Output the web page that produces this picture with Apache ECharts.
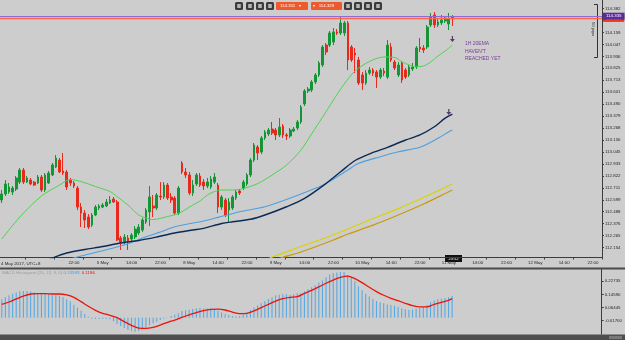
<!DOCTYPE html>
<html>
<head>
<meta charset="utf-8">
<style>
    html, body { margin: 0; padding: 0; background: #cdcdcd; }
    #chart { width: 625px; height: 340px; }
</style>
<script src="https://cdn.jsdelivr.net/npm/echarts@6/dist/echarts.min.js"></script>
</head>
<body>
<div id="chart"></div>
<script>
// USDJPY 1H, 4 May - 11 May 2017 (UTC+8)
const opens = [
    112.597, 112.653, 112.671, 112.671, 112.699, 112.764, 112.876, 112.764, 112.783, 112.764,
    112.755, 112.811, 112.690, 112.755, 112.830, 112.904, 112.969, 112.867, 112.858, 112.783,
    112.755, 112.708, 112.531, 112.475, 112.438, 112.363, 112.457, 112.522, 112.531, 112.541,
    112.569, 112.606, 112.578, 112.243, 112.205, 112.243, 112.233, 112.252, 112.289, 112.317,
    112.392, 112.485, 112.541, 112.522, 112.634, 112.625, 112.736, 112.625, 112.615, 112.475,
    112.942, 112.858, 112.830, 112.662, 112.746, 112.820, 112.764, 112.727, 112.718, 112.764,
    112.736, 112.531, 112.597, 112.503, 112.522, 112.615, 112.681, 112.708, 112.746, 112.830,
    112.969, 113.091, 113.044, 113.175, 113.212, 113.258, 113.249, 113.203, 113.286, 113.203,
    113.193, 113.240, 113.268, 113.324, 113.492, 113.613, 113.622, 113.697, 113.762, 113.855,
    114.041, 114.041, 114.069, 114.163, 114.153, 114.153, 114.247, 114.023, 113.967, 113.902,
    113.762, 113.687, 113.780, 113.808, 113.790, 113.743, 113.799, 113.743, 114.023, 113.883,
    113.762, 113.874, 113.808, 113.762, 113.818, 113.836, 114.023, 114.014, 114.023, 114.228,
    114.321, 114.228, 114.247, 114.265, 114.237, 114.307
]
const closes = [
    112.653, 112.746, 112.718, 112.708, 112.802, 112.876, 112.764, 112.802, 112.746, 112.736,
    112.811, 112.690, 112.830, 112.848, 112.923, 112.988, 112.858, 112.848, 112.718, 112.755,
    112.727, 112.531, 112.475, 112.410, 112.345, 112.457, 112.531, 112.541, 112.550, 112.578,
    112.597, 112.578, 112.224, 112.205, 112.252, 112.214, 112.270, 112.326, 112.345, 112.410,
    112.503, 112.625, 112.522, 112.643, 112.625, 112.736, 112.615, 112.597, 112.475, 112.708,
    112.858, 112.830, 112.662, 112.736, 112.830, 112.736, 112.727, 112.764, 112.792, 112.811,
    112.531, 112.625, 112.457, 112.578, 112.625, 112.671, 112.662, 112.764, 112.830, 112.969,
    113.109, 113.035, 113.175, 113.230, 113.249, 113.221, 113.203, 113.277, 113.203, 113.193,
    113.249, 113.258, 113.324, 113.464, 113.613, 113.631, 113.697, 113.762, 113.874, 114.023,
    113.976, 114.153, 114.163, 114.153, 114.247, 114.247, 113.902, 113.902, 113.948, 113.687,
    113.687, 113.780, 113.808, 113.780, 113.743, 113.808, 113.780, 114.041, 113.902, 113.827,
    113.855, 113.715, 113.743, 113.836, 113.836, 114.014, 114.004, 113.995, 114.209, 114.303,
    114.228, 114.256, 114.275, 114.293, 114.284, 114.293
]
const lows = [
    112.569, 112.634, 112.653, 112.643, 112.681, 112.746, 112.746, 112.755, 112.736, 112.727,
    112.746, 112.671, 112.671, 112.746, 112.820, 112.895, 112.848, 112.830, 112.690, 112.727,
    112.708, 112.503, 112.345, 112.336, 112.326, 112.345, 112.447, 112.503, 112.522, 112.531,
    112.559, 112.569, 112.214, 112.131, 112.186, 112.131, 112.196, 112.233, 112.270, 112.298,
    112.373, 112.354, 112.438, 112.503, 112.597, 112.606, 112.597, 112.569, 112.457, 112.457,
    112.839, 112.802, 112.643, 112.634, 112.727, 112.718, 112.690, 112.708, 112.699, 112.746,
    112.475, 112.503, 112.438, 112.392, 112.503, 112.597, 112.643, 112.690, 112.727, 112.811,
    112.951, 112.969, 113.025, 113.156, 113.193, 113.203, 113.156, 113.184, 113.175, 113.156,
    113.175, 113.230, 113.249, 113.305, 113.473, 113.594, 113.603, 113.678, 113.743, 113.836,
    113.948, 114.023, 114.041, 114.135, 114.135, 114.125, 113.808, 113.883, 113.780, 113.669,
    113.622, 113.669, 113.762, 113.752, 113.641, 113.725, 113.752, 113.725, 113.883, 113.808,
    113.743, 113.687, 113.725, 113.743, 113.799, 113.818, 113.976, 113.967, 114.004, 114.209,
    114.200, 114.209, 114.228, 114.247, 114.181, 114.219
]
const highs = [
    112.690, 112.783, 112.755, 112.727, 112.820, 112.895, 112.895, 112.820, 112.802, 112.774,
    112.830, 112.830, 112.848, 112.867, 112.942, 113.016, 112.988, 113.035, 112.876, 112.802,
    112.774, 112.727, 112.569, 112.503, 112.466, 112.475, 112.550, 112.559, 112.569, 112.606,
    112.634, 112.625, 112.597, 112.261, 112.280, 112.270, 112.289, 112.354, 112.373, 112.429,
    112.522, 112.727, 112.643, 112.662, 112.764, 112.764, 112.755, 112.662, 112.634, 112.727,
    112.960, 112.895, 112.858, 112.783, 112.848, 112.848, 112.792, 112.802, 112.820, 112.848,
    112.755, 112.643, 112.615, 112.615, 112.643, 112.690, 112.699, 112.783, 112.848, 112.988,
    113.128, 113.109, 113.193, 113.249, 113.268, 113.324, 113.268, 113.361, 113.305, 113.221,
    113.268, 113.277, 113.342, 113.482, 113.631, 113.650, 113.715, 113.780, 113.892, 114.041,
    114.060, 114.172, 114.200, 114.191, 114.303, 114.265, 114.265, 114.041, 114.014, 113.930,
    113.790, 113.808, 113.836, 113.827, 113.808, 113.827, 113.827, 114.088, 114.060, 113.902,
    113.883, 113.892, 113.827, 113.855, 113.874, 114.032, 114.107, 114.041, 114.228, 114.340,
    114.349, 114.284, 114.321, 114.312, 114.340, 114.321
]

// moving averages, [candle index, price]
const ema20 = [[0, 112.233], [5, 112.438], [11, 112.634], [16, 112.736], [19, 112.788], [22, 112.769], [26, 112.722], [30, 112.676], [32, 112.629], [35, 112.550], [38, 112.457], [40, 112.429], [42, 112.415], [46, 112.443], [49, 112.471], [53, 112.550], [55, 112.587], [57, 112.643], [59, 112.676], [61, 112.690], [64, 112.690], [67, 112.704], [71, 112.750], [75, 112.830], [79, 112.923], [83, 113.063], [86, 113.216], [89, 113.370], [92, 113.529], [95, 113.678], [98, 113.799], [102, 113.888], [106, 113.930], [109, 113.925], [111, 113.886], [113, 113.855], [115, 113.839], [117, 113.846], [119, 113.883], [121, 113.939], [123, 113.986], [125, 114.041]]
const navyMa = [[12, 112.019], [14, 112.056], [18, 112.103], [23, 112.135], [28, 112.163], [33, 112.196], [38, 112.219], [43, 112.252], [48, 112.289], [53, 112.317], [56, 112.333], [61, 112.378], [64, 112.394], [69, 112.417], [73, 112.457], [79, 112.534], [84, 112.612], [90, 112.752], [94, 112.860], [98, 112.965], [103, 113.040], [107, 113.088], [112, 113.156], [116, 113.203], [120, 113.280], [123, 113.360], [125, 113.398]]
const blueMa = [[17, 112.028], [22, 112.075], [27, 112.117], [32, 112.158], [36, 112.200], [40, 112.254], [44, 112.298], [48, 112.348], [56, 112.401], [60, 112.435], [66, 112.488], [73, 112.534], [81, 112.627], [87, 112.706], [90, 112.752], [96, 112.876], [99, 112.939], [105, 113.000], [110, 113.047], [116, 113.088], [121, 113.172], [124, 113.233], [125, 113.249]]
const yellowMa = [[72, 112.009], [74, 112.051], [83, 112.163], [90, 112.247], [97, 112.340], [103, 112.424], [110, 112.517], [117, 112.620], [125, 112.746]]
const goldMa = [[75, 112.009], [77, 112.051], [83, 112.112], [92, 112.224], [96, 112.280], [103, 112.363], [110, 112.457], [117, 112.559], [124, 112.674], [125, 112.690]]

const arrowMarks = [[125, 114.097], [124, 113.417]]

const macdHist = [
    0.115, 0.127, 0.140, 0.150, 0.158, 0.165, 0.167, 0.167, 0.163, 0.158,
    0.154, 0.152, 0.148, 0.146, 0.142, 0.140, 0.135, 0.129, 0.115, 0.102,
    0.081, 0.063, 0.044, 0.023, 0.006, -0.006, -0.008, -0.008, -0.008, -0.006,
    -0.010, -0.023, -0.040, -0.052, -0.065, -0.077, -0.083, -0.088, -0.083, -0.073,
    -0.060, -0.048, -0.035, -0.025, -0.015, -0.006, 0.002, 0.010, 0.019, 0.027,
    0.042, 0.046, 0.050, 0.054, 0.058, 0.060, 0.058, 0.058, 0.056, 0.052,
    0.044, 0.033, 0.023, 0.017, 0.010, 0.008, 0.010, 0.019, 0.031, 0.048,
    0.063, 0.077, 0.090, 0.102, 0.117, 0.127, 0.140, 0.144, 0.146, 0.146,
    0.142, 0.146, 0.152, 0.152, 0.165, 0.177, 0.190, 0.202, 0.219, 0.233,
    0.252, 0.269, 0.279, 0.283, 0.285, 0.285, 0.265, 0.252, 0.227, 0.196,
    0.171, 0.150, 0.133, 0.117, 0.104, 0.096, 0.090, 0.083, 0.079, 0.075,
    0.067, 0.058, 0.052, 0.048, 0.050, 0.056, 0.060, 0.067, 0.077, 0.098,
    0.108, 0.115, 0.119, 0.123, 0.127, 0.136
]
const macdSignal = [[0, 0.083], [2, 0.098], [4, 0.117], [6, 0.135], [8, 0.148], [10, 0.150], [12, 0.150], [14, 0.148], [16, 0.148], [18, 0.142], [20, 0.127], [22, 0.100], [24, 0.071], [26, 0.046], [28, 0.027], [30, 0.015], [32, 0.000], [34, -0.025], [36, -0.048], [38, -0.065], [40, -0.067], [42, -0.060], [44, -0.046], [46, -0.029], [48, -0.015], [50, 0.002], [52, 0.017], [54, 0.031], [56, 0.044], [58, 0.052], [60, 0.054], [62, 0.048], [64, 0.035], [66, 0.025], [68, 0.027], [70, 0.042], [72, 0.063], [74, 0.083], [76, 0.104], [78, 0.119], [80, 0.127], [82, 0.131], [84, 0.152], [86, 0.171], [88, 0.192], [90, 0.215], [92, 0.235], [94, 0.252], [96, 0.260], [98, 0.244], [100, 0.219], [102, 0.190], [104, 0.163], [106, 0.140], [108, 0.121], [110, 0.106], [112, 0.090], [114, 0.075], [116, 0.067], [118, 0.067], [120, 0.083], [122, 0.096], [124, 0.108], [125, 0.1186]]

const priceTicks = [112.154, 112.265, 112.376, 112.488, 112.599, 112.711, 112.822, 112.933, 113.045, 113.156, 113.268, 113.379, 113.490, 113.601, 113.713, 113.825, 113.936, 114.047, 114.159, 114.270, 114.382]
const macdTicks = [-0.017, 0.06445, 0.1459, 0.22735]
const timeTickIndex = [20, 28, 36, 44, 52, 60, 68, 76, 84, 92, 100, 108, 116, 124, 132, 140, 148, 156, 164]
const timeTickText = ['22:00', '5 May', '14:00', '22:00', '8 May', '14:00', '22:00', '9 May', '14:00', '22:00', '10 May', '14:00', '22:00', '11 May', '14:00', '22:00', '12 May', '14:00', '22:00']
const slotCount = 167
const bidLine = 114.287
const askLine = 114.312

const slots = []
for (let i = 0; i < slotCount; i++) slots.push(String(i))
const candles = opens.map((o, i) => [o, closes[i], lows[i], highs[i]])
const tickText = {}
timeTickIndex.forEach((idx, k) => { tickText[idx] = timeTickText[k] })

const FONT = 'Liberation Sans'
const axisText = { fontSize: 4.4, color: '#262626', fontFamily: FONT }

function toolIcon(x) {
    return [
        { type: 'rect', shape: { x: x, y: 2, width: 8, height: 8, r: 1.5 }, style: { fill: '#3b3b3b' } },
        { type: 'rect', shape: { x: x + 2.2, y: 4, width: 3.6, height: 4 }, style: { fill: '#b5b5b5' } },
    ]
}

const chart = echarts.init(document.getElementById('chart'))
chart.setOption({
    animation: false,
    backgroundColor: '#cdcdcd',
    grid: [
        { left: 0, right: 23, top: 0, height: 257.5 },
        { left: 0, right: 23, top: 269.5, height: 64.5 },
    ],
    xAxis: [
        {
            type: 'category', gridIndex: 0, data: slots, boundaryGap: true,
            axisLine: { lineStyle: { color: '#3c3c3c', width: 1 } },
            axisTick: { show: true, length: 2, interval: (i) => i % 8 === 7, lineStyle: { color: '#3c3c3c' } },
            axisLabel: Object.assign({ margin: 3, interval: (i) => tickText[i] !== undefined, formatter: (v, i) => tickText[i] || '' }, axisText),
            splitLine: { show: false },
        },
        { type: 'category', gridIndex: 1, data: slots, boundaryGap: true, show: false },
    ],
    yAxis: [
        {
            type: 'value', gridIndex: 0, position: 'right', min: 112.061, max: 114.461,
            axisLine: { show: true, lineStyle: { color: '#3c3c3c' } },
            axisTick: { show: true, length: 2, customValues: priceTicks, lineStyle: { color: '#3c3c3c' } },
            axisLabel: Object.assign({ margin: 3, customValues: priceTicks, formatter: (v) => v.toFixed(3) }, axisText),
            splitLine: { show: false },
        },
        {
            type: 'value', gridIndex: 1, position: 'right', min: -0.102, max: 0.301,
            axisLine: { show: true, lineStyle: { color: '#3c3c3c' } },
            axisTick: { show: true, length: 2, customValues: macdTicks, lineStyle: { color: '#3c3c3c' } },
            axisLabel: Object.assign({ margin: 3, customValues: macdTicks, formatter: (v) => v.toFixed(5) }, axisText),
            splitLine: { show: false },
        },
    ],
    series: [
        {
            type: 'candlestick', data: candles, barWidth: 2.2,
            itemStyle: { color: '#149636', color0: '#e8291c', borderColor: '#149636', borderColor0: '#e8291c', borderWidth: 1 },
            markLine: {
                silent: true, symbol: ['none', 'none'], animation: false,
                data: [
                    { yAxis: bidLine, lineStyle: { color: '#ff6847', width: 1.3, type: 'solid' },
                      label: { show: true, position: 'end', distance: 1, formatter: '114.311', color: '#fff', backgroundColor: '#f2361c', padding: [1.5, 3], fontSize: 4.4, fontFamily: FONT } },
                    { yAxis: askLine, lineStyle: { color: '#8d6cd6', width: 1, type: 'solid' },
                      label: { show: true, position: 'end', distance: 1, formatter: '114.335', color: '#fff', backgroundColor: '#5b2a9c', padding: [1.5, 3], fontSize: 4.4, fontFamily: FONT } },
                ],
            },
        },
        { type: 'line', data: yellowMa, smooth: 0.3, showSymbol: false, lineStyle: { color: '#d8d400', width: 1.2 } },
        { type: 'line', data: goldMa, smooth: 0.3, showSymbol: false, lineStyle: { color: '#c99a0a', width: 1.2 } },
        { type: 'line', data: blueMa, smooth: 0.3, showSymbol: false, lineStyle: { color: '#4d9fe0', width: 1.1 } },
        { type: 'line', data: navyMa, smooth: 0.3, showSymbol: false, lineStyle: { color: '#0c2a56', width: 1.4 } },
        { type: 'line', data: ema20, smooth: 0.3, showSymbol: false, lineStyle: { color: '#4fd34f', width: 1 } },
        {
            type: 'scatter', data: arrowMarks, symbol: 'path://M3,0 L5,0 L5,4 L8,4 L4,8 L0,4 L3,4 Z', symbolSize: [5, 6],
            itemStyle: { color: '#3e1656' },
        },
        { type: 'bar', xAxisIndex: 1, yAxisIndex: 1, data: macdHist, barWidth: 1.1, itemStyle: { color: '#5aa9e2' } },
        { type: 'line', xAxisIndex: 1, yAxisIndex: 1, data: macdSignal, smooth: 0.3, showSymbol: false, lineStyle: { color: '#e8150d', width: 1.3 } },
    ],
    graphic: [
        { type: 'rect', shape: { x: 0, y: 267.5, width: 625, height: 2 }, style: { fill: '#4b4b4b' } },
        { type: 'rect', shape: { x: 0, y: 334.5, width: 625, height: 6 }, style: { fill: '#4e4e4e' } },
        { type: 'rect', shape: { x: 609, y: 336, width: 13, height: 3 }, style: { fill: '#787878' } },
        { type: 'text', x: 1, y: 263.5, style: { text: '4 May 2017, UTC+8', fill: '#262626', fontSize: 4.4, fontFamily: FONT, verticalAlign: 'middle' } },
        { type: 'rect', shape: { x: 445, y: 255, width: 17, height: 7 }, style: { fill: '#111' } },
        { type: 'text', x: 453.5, y: 258.6, style: { text: '23:52', fill: '#fff', fontSize: 4, fontFamily: FONT, align: 'center', verticalAlign: 'middle' } },
        { type: 'text', x: 2, y: 272.8, style: {
            text: '{a|MACD Histogram (26, 13, 9, 0)} {b|0.13599,} {c|0.1186}', verticalAlign: 'middle', fontSize: 4.4, fontFamily: FONT,
            rich: { a: { fill: '#9c9c9c', fontSize: 4.4 }, b: { fill: '#4a9fdf', fontSize: 4.4 }, c: { fill: '#e8150d', fontSize: 4.4 } },
        } },
        { type: 'text', x: 465, y: 40, style: { text: "1H 20EMA\nHAVEN'T\nREACHED YET", fill: '#7b3c9a', fontSize: 5, lineHeight: 7.5, fontFamily: FONT } },
        // 50 pips ruler
        { type: 'polyline', shape: { points: [[594, 4.5], [597.5, 4.5], [597.5, 57.5], [594, 57.5]] }, style: { stroke: '#333', fill: null, lineWidth: 1 } },
        { type: 'text', x: 593, y: 29, rotation: -Math.PI / 2, style: { text: '50 pips', fill: '#333', fontSize: 4.4, fontFamily: FONT, align: 'center', verticalAlign: 'middle' } },
        // toolbar
        ...toolIcon(235), ...toolIcon(246), ...toolIcon(256), ...toolIcon(266),
        { type: 'rect', shape: { x: 276, y: 2, width: 32, height: 8, r: 1 }, style: { fill: '#ee5a2b' } },
        { type: 'text', x: 280, y: 6.2, style: { text: '114.311   \u25BE', fill: '#fff', fontSize: 4.4, fontFamily: FONT, verticalAlign: 'middle' } },
        { type: 'rect', shape: { x: 311, y: 2, width: 31, height: 8, r: 1 }, style: { fill: '#ee5a2b' } },
        { type: 'text', x: 313, y: 6.2, style: { text: '\u25BE   114.329', fill: '#fff', fontSize: 4.4, fontFamily: FONT, verticalAlign: 'middle' } },
        ...toolIcon(344), ...toolIcon(354), ...toolIcon(364), ...toolIcon(374),
    ],
})
</script>
</body>
</html>
